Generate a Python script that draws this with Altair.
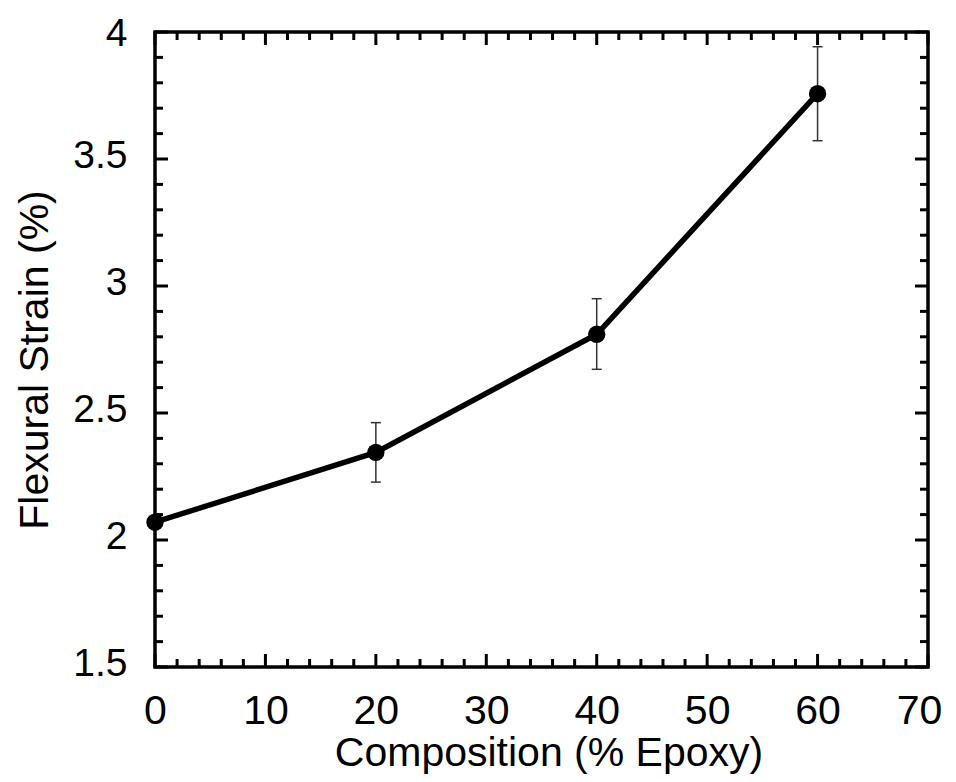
import altair as alt
import pandas as pd

# ---- data ----
composition = [0, 20, 40, 60]
strain = [2.07, 2.345, 2.81, 3.757]
err_x = [20, 40, 60]
err_lo = [2.228, 2.672, 3.572]
err_hi = [2.462, 2.950, 3.942]

x_major = [0, 10, 20, 30, 40, 50, 60, 70]
x_minor = [2, 4, 6, 8, 12, 14, 16, 18, 22, 24, 26, 28, 32, 34, 36, 38,
           42, 44, 46, 48, 52, 54, 56, 58, 62, 64, 66, 68]
y_major = [1.5, 2.0, 2.5, 3.0, 3.5, 4.0]
y_minor = [1.6, 1.7, 1.8, 1.9, 2.1, 2.2, 2.3, 2.4, 2.6, 2.7, 2.8, 2.9,
           3.1, 3.2, 3.3, 3.4, 3.6, 3.7, 3.8, 3.9]

W, H = 773, 635
MAJ, MIN = 13, 8
FONT = "Liberation Sans"

df = pd.DataFrame({"x": composition, "y": strain})
df_err = pd.DataFrame({"x": err_x, "lo": err_lo, "hi": err_hi})
df_xmaj = pd.DataFrame({"x": x_major})
df_xmin = pd.DataFrame({"x": x_minor})
df_ymaj = pd.DataFrame({"y": y_major})
df_ymin = pd.DataFrame({"y": y_minor})

xscale = alt.Scale(domain=[0, 70], nice=False, zero=False)
yscale = alt.Scale(domain=[1.5, 4], nice=False, zero=False)

xaxis = alt.Axis(
    values=x_major, format="~g", grid=False, domain=False, ticks=False,
    labelFont=FONT, labelFontSize=41, labelColor="black", labelFlush=False,
    labelOverlap=False, labelBaseline="alphabetic", labelPadding=56,
    labelOffset={"condition": {"test": "datum.value == 70", "value": -9}, "value": 0},
    title="Composition (% Epoxy)", titleFont=FONT, titleFontSize=41,
    titleFontWeight="normal", titleColor="black",
    titleBaseline="alphabetic", titleX=W / 2 + 7, titleY=98, titleAlign="center",
)
yaxis = alt.Axis(
    values=y_major, format="~g", grid=False, domain=False, ticks=False,
    labelFont=FONT, labelFontSize=39, labelColor="black", labelFlush=False,
    labelOverlap=False, labelPadding=28,
    labelOffset={"condition": {"test": "datum.value == 4", "value": 1}, "value": -4},
    title="Flexural Strain (%)", titleFont=FONT, titleFontSize=41,
    titleFontWeight="normal", titleColor="black", titleAngle=-90,
    titleBaseline="middle", titleAlign="center", titleX=-120, titleY=H / 2 + 10,
)

X = alt.X("x:Q", scale=xscale, axis=xaxis)
Y = alt.Y("y:Q", scale=yscale, axis=yaxis)

line = alt.Chart(df).mark_line(color="black", strokeWidth=5.5, clip=False).encode(x=X, y=Y)
pts = alt.Chart(df).mark_circle(color="black", opacity=1, size=300, clip=False).encode(x=X, y=Y)

xs = alt.X("x:Q", scale=xscale)
ys = alt.Y("y:Q", scale=yscale)

err_v = alt.Chart(df_err).mark_rule(color="#333333", strokeWidth=1.5).encode(
    x=xs, y=alt.Y("lo:Q", scale=yscale), y2="hi:Q")
cap_hi = alt.Chart(df_err).mark_rule(color="#333333", strokeWidth=1.5, xOffset=-5, x2Offset=5).encode(
    x=xs, x2="x:Q", y=alt.Y("hi:Q", scale=yscale))
cap_lo = alt.Chart(df_err).mark_rule(color="#333333", strokeWidth=1.5, xOffset=-5, x2Offset=5).encode(
    x=xs, x2="x:Q", y=alt.Y("lo:Q", scale=yscale))

def xticks(d, ln):
    bot = alt.Chart(d).mark_rule(color="black", strokeWidth=3).encode(
        x=xs, y=alt.value(H), y2=alt.value(H - ln))
    top = alt.Chart(d).mark_rule(color="black", strokeWidth=3).encode(
        x=xs, y=alt.value(0), y2=alt.value(ln))
    return [bot, top]

def yticks(d, ln):
    left = alt.Chart(d).mark_rule(color="black", strokeWidth=3).encode(
        y=ys, x=alt.value(0), x2=alt.value(ln))
    right = alt.Chart(d).mark_rule(color="black", strokeWidth=3).encode(
        y=ys, x=alt.value(W), x2=alt.value(W - ln))
    return [left, right]

layers = (xticks(df_xmaj, MAJ) + xticks(df_xmin, MIN) +
          yticks(df_ymaj, MAJ) + yticks(df_ymin, MIN) +
          [err_v, cap_hi, cap_lo, line, pts])

chart = alt.layer(*layers).properties(
    width=W, height=H,
    autosize=alt.AutoSizeParams(type="none"),
    padding={"left": 147, "top": 24, "right": 20, "bottom": 107},
    background="white",
).configure_view(stroke="black", strokeWidth=3.5)

chart.save("out.html", embed_options={"renderer": "svg", "actions": False})
